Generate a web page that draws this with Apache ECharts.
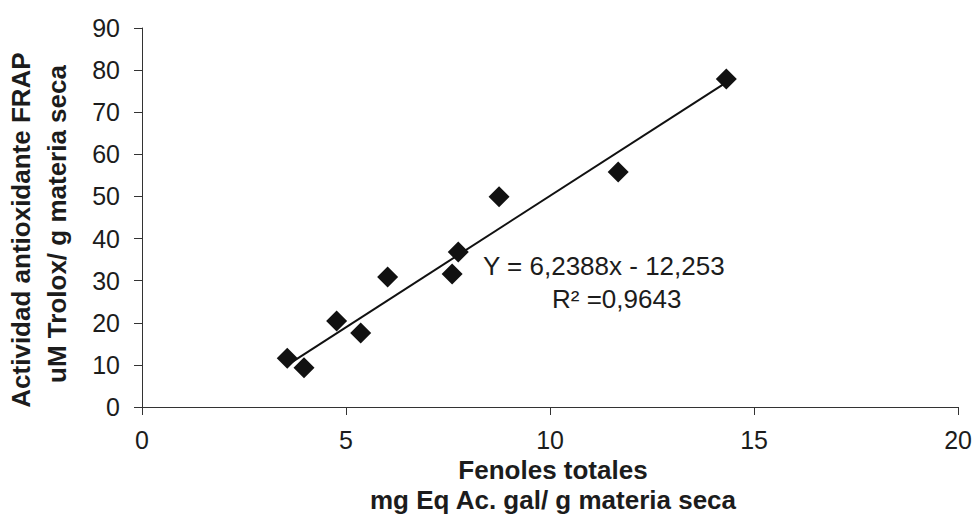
<!DOCTYPE html>
<html>
<head>
<meta charset="utf-8">
<script src="https://cdn.jsdelivr.net/npm/echarts@6/dist/echarts.min.js"></script>
<style>
  html, body { margin: 0; padding: 0; background: #fff; }
  #chart { width: 975px; height: 519px; }
</style>
</head>
<body>
<div id="chart"></div>
<script>
// fenoles totales (x) vs actividad FRAP (y)
const fenoles = [3.56, 3.97, 4.77, 5.36, 6.02, 7.60, 7.75, 8.75, 11.67, 14.32];
const frap = [11.6, 9.3, 20.4, 17.6, 30.9, 31.6, 36.8, 49.9, 55.8, 77.9];
// trend line end points
const trendX = [3.56, 14.32];
const trendY = [9.96, 77.1];
const xTicks = [0, 5, 10, 15, 20];
const yTicks = [0, 10, 20, 30, 40, 50, 60, 70, 80, 90];

const font = "'Liberation Sans', Arial, sans-serif";
const ink = "#1c1c1c";

let points = fenoles.map((x, i) => [x, frap[i]]);
let trend = trendX.map((x, i) => [x, trendY[i]]);

let myChart = echarts.init(document.getElementById("chart"), null, { renderer: "svg" });
let option = {
  backgroundColor: "#fff",
  animation: false,
  grid: { left: 142, right: 12, top: 28, bottom: 112 },
  xAxis: {
    type: "value",
    min: xTicks[0],
    max: xTicks[xTicks.length - 1],
    interval: 5,
    splitLine: { show: false },
    axisLine: { onZero: false, lineStyle: { color: "#333", width: 1 } },
    axisTick: { length: 8, lineStyle: { color: "#333" } },
    axisLabel: { margin: 20, fontSize: 25, color: ink, fontFamily: font },
  },
  yAxis: {
    type: "value",
    min: yTicks[0],
    max: yTicks[yTicks.length - 1],
    interval: 10,
    splitLine: { show: false },
    axisLine: { show: true, onZero: false, lineStyle: { color: "#333", width: 1 } },
    axisTick: { show: true, length: 8, lineStyle: { color: "#333" } },
    axisLabel: { margin: 22, fontSize: 25, color: ink, fontFamily: font },
  },
  graphic: [
    {
      type: "text", x: 21, y: 230, rotation: Math.PI / 2,
      style: { text: "Actividad antioxidante FRAP", font: "bold 26px " + font, fill: ink, align: "center", verticalAlign: "middle" },
    },
    {
      type: "text", x: 57, y: 224, rotation: Math.PI / 2,
      style: { text: "uM Trolox/ g materia seca", font: "bold 26px " + font, fill: ink, align: "center", verticalAlign: "middle" },
    },
    {
      type: "text", x: 553, y: 470,
      style: { text: "Fenoles totales", font: "bold 26px " + font, fill: ink, align: "center", verticalAlign: "middle" },
    },
    {
      type: "text", x: 553, y: 500,
      style: { text: "mg Eq Ac. gal/ g materia seca", font: "bold 26px " + font, fill: ink, align: "center", verticalAlign: "middle" },
    },
    {
      type: "text", x: 483, y: 266,
      style: { text: "Y = 6,2388x - 12,253", font: "26px " + font, fill: ink, align: "left", verticalAlign: "middle" },
    },
    {
      type: "text", x: 552, y: 299,
      style: { text: "R\u00b2 =0,9643", font: "26px " + font, fill: ink, align: "left", verticalAlign: "middle" },
    },
  ],
  series: [
    {
      name: "tendencia",
      type: "line",
      data: trend,
      symbol: "none",
      lineStyle: { color: "#111", width: 2 },
      z: 2,
    },
    {
      name: "FRAP",
      type: "scatter",
      data: points,
      symbol: "diamond",
      symbolSize: 21,
      itemStyle: { color: "#111", opacity: 1 },
      z: 3,
    },
  ],
};
myChart.setOption(option);
</script>
</body>
</html>
